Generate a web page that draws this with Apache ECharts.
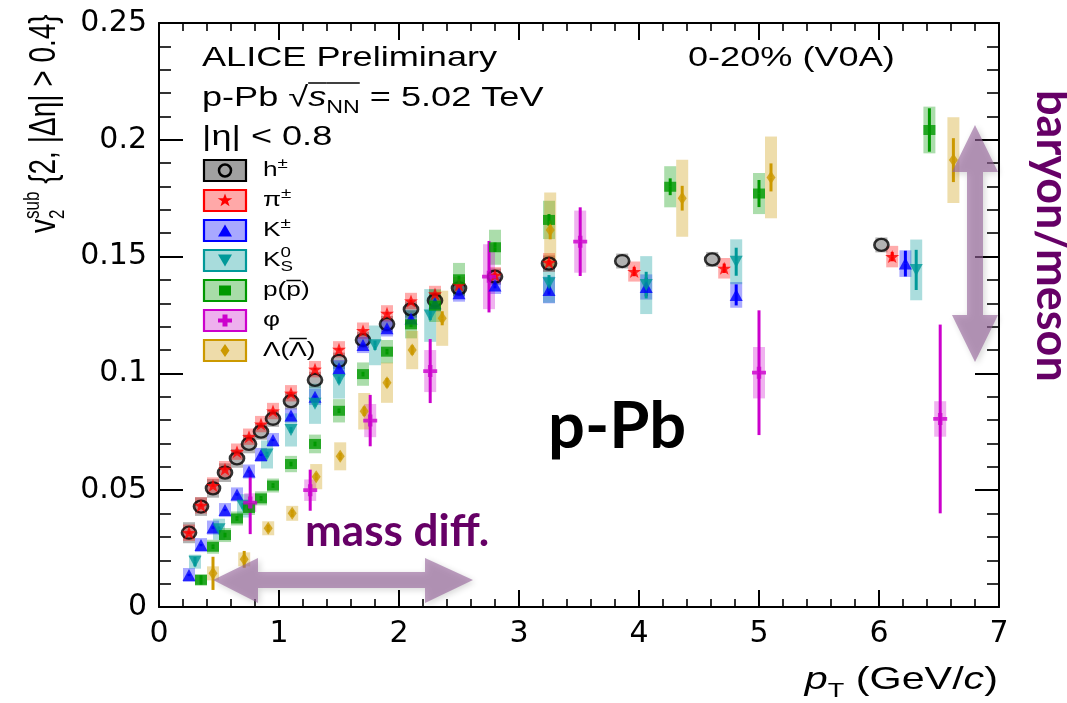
<!DOCTYPE html>
<html><head><meta charset="utf-8">
<script src="https://cdn.jsdelivr.net/npm/echarts@6/dist/echarts.min.js"></script>
<style>html,body{margin:0;padding:0;background:#fff}#c{width:1067px;height:703px}</style>
</head><body><div id="c"></div>
<script>
// ---------------- DATA ----------------
const xTicks = [0, 1, 2, 3, 4, 5, 6, 7];
const yTicks = [0, 0.05, 0.1, 0.15, 0.2, 0.25];

const hPt   = [0.25,0.35,0.45,0.55,0.65,0.75,0.85,0.95,1.1,1.3,1.5,1.7,1.9,2.1,2.3,2.5,2.8,3.25,3.86,4.61,6.02];
const hV2   = [0.0318,0.0430,0.0508,0.0575,0.0636,0.0698,0.0751,0.0806,0.0881,0.0972,0.1054,0.1143,0.1211,0.1274,0.1312,0.1364,0.1414,0.1470,0.1481,0.1488,0.1550];
const hStat = [0.0005,0.0005,0.0005,0.0005,0.0005,0.0005,0.0005,0.0005,0.0005,0.0005,0.0005,0.0005,0.0005,0.0005,0.0005,0.0005,0.0006,0.0008,0.001,0.001,0.001];
const hSyst = [0.0045,0.004,0.004,0.004,0.004,0.004,0.0035,0.0035,0.0035,0.0035,0.0035,0.0035,0.0035,0.0035,0.0035,0.0035,0.0035,0.0035,0.0032,0.0032,0.0032];

const piPt   = [0.25,0.35,0.45,0.55,0.65,0.75,0.85,0.95,1.1,1.3,1.5,1.7,1.9,2.1,2.3,2.5,2.8,3.25,3.96,4.71,6.11];
const piV2   = [0.0318,0.0435,0.0520,0.0590,0.0665,0.0729,0.0783,0.0839,0.0915,0.1018,0.1103,0.1183,0.1257,0.1310,0.1340,0.1378,0.1420,0.1475,0.1436,0.1450,0.1500];
const piStat = [0.0005,0.0005,0.0005,0.0005,0.0005,0.0005,0.0005,0.0005,0.0005,0.0005,0.0005,0.0005,0.0005,0.0005,0.0005,0.0006,0.0008,0.001,0.002,0.002,0.002];
const piSyst = [0.0035,0.0035,0.0035,0.0035,0.0035,0.0035,0.0035,0.0035,0.0035,0.0035,0.0035,0.0035,0.0035,0.0035,0.0035,0.0035,0.0035,0.004,0.0043,0.0044,0.0046];

const kPt   = [0.25,0.35,0.45,0.55,0.65,0.75,0.85,0.95,1.1,1.3,1.5,1.7,1.9,2.1,2.3,2.5,2.8,3.25,4.06,4.81,6.22];
const kV2   = [0.0137,0.0265,0.0340,0.0415,0.0482,0.0580,0.0651,0.0715,0.0820,0.0900,0.1022,0.1122,0.1193,0.1235,0.1300,0.1343,0.1376,0.1357,0.1370,0.1336,0.1470];
const kStat = [0.0005,0.0005,0.0005,0.0005,0.0005,0.0005,0.0005,0.0005,0.0005,0.0005,0.0005,0.0006,0.0007,0.0008,0.001,0.001,0.0012,0.002,0.004,0.0045,0.0055];
const kSyst = [0.003,0.003,0.003,0.003,0.003,0.003,0.003,0.003,0.003,0.0035,0.0035,0.0035,0.0035,0.0035,0.0035,0.0036,0.0036,0.0057,0.0054,0.0055,0.0057];

const k0Pt   = [0.30,0.50,0.70,0.90,1.10,1.30,1.50,1.80,2.26,3.25,4.06,4.81,6.31];
const k0V2   = [0.0194,0.0333,0.0433,0.0653,0.0758,0.0870,0.0972,0.1120,0.1248,0.1386,0.1378,0.1478,0.1443];
const k0Stat = [0.002,0.0012,0.0012,0.0012,0.0012,0.0012,0.0015,0.002,0.002,0.0035,0.0057,0.006,0.0086];
const k0Syst = [0.003,0.0045,0.005,0.006,0.0071,0.0086,0.008,0.0085,0.0113,0.0084,0.0124,0.0096,0.013];

const pPt   = [0.35,0.45,0.55,0.65,0.75,0.85,0.95,1.1,1.3,1.5,1.7,1.9,2.1,2.3,2.5,2.8,3.25,4.26,5.0,6.42];
const pV2   = [0.0116,0.0258,0.0308,0.0379,0.0424,0.0465,0.0520,0.0612,0.0698,0.0840,0.0997,0.1093,0.1210,0.1290,0.1403,0.1540,0.1657,0.1799,0.1770,0.2042];
const pStat = [0.002,0.001,0.001,0.001,0.001,0.001,0.001,0.001,0.001,0.001,0.001,0.0012,0.0012,0.0015,0.0015,0.002,0.0025,0.0036,0.0058,0.0093];
const pSyst = [0.0025,0.003,0.003,0.003,0.003,0.003,0.003,0.0035,0.004,0.005,0.005,0.005,0.006,0.007,0.007,0.0075,0.0082,0.0088,0.0088,0.010];

const phiPt   = [0.76,1.26,1.76,2.26,2.75,3.51,5.0,6.51];
const phiV2   = [0.0447,0.0500,0.0798,0.1010,0.1414,0.1564,0.1003,0.0805];
const phiStat = [0.0135,0.0088,0.011,0.0137,0.0153,0.0147,0.0267,0.0404];
const phiSyst = [0.004,0.0046,0.0071,0.009,0.0139,0.0133,0.011,0.0076];

const lamPt   = [0.45,0.71,0.91,1.11,1.31,1.51,1.71,1.90,2.11,2.36,3.26,4.36,5.10,6.62];
const lamV2   = [0.0144,0.0204,0.0337,0.0401,0.0558,0.0645,0.0838,0.0960,0.1100,0.1236,0.1614,0.1750,0.1839,0.1913];
const lamStat = [0.0071,0.0036,0.0015,0.0015,0.0015,0.0015,0.002,0.002,0.002,0.003,0.004,0.0053,0.006,0.0094];
const lamSyst = [0.003,0.003,0.003,0.0032,0.0054,0.006,0.0078,0.0086,0.0082,0.0118,0.016,0.0165,0.0175,0.0184];

// ---------------- STYLE ----------------
const STAR = 'path://M0,-50 L11.8,-16.2 L47.6,-15.5 L19,6.2 L29.4,40.5 L0,20 L-29.4,40.5 L-19,6.2 L-47.6,-15.5 L-11.8,-16.2 Z';
const PLUS = 'path://M-16,-50 H16 V-16 H50 V16 H16 V50 H-16 V16 H-50 V-16 H-16 Z';

const species = [
  {name:'h',   pt:hPt,  v2:hV2,  stat:hStat,  syst:hSyst,  color:'#000000', box:'rgba(0,0,0,0.30)',     lbox:'#a0a0a0', symbol:'circle',   size:[14,12], hollow:true, lk:'circle'},
  {name:'pi',  pt:piPt, v2:piV2, stat:piStat, syst:piSyst, color:'#ff0000', box:'rgba(255,0,0,0.33)',   lbox:'#ffa8a8', symbol:STAR,       size:[14,13], lk:'star'},
  {name:'K',   pt:kPt,  v2:kV2,  stat:kStat,  syst:kSyst,  color:'#0000ff', box:'rgba(0,0,255,0.33)',   lbox:'#a8a8ff', symbol:'triangle', size:[13,12], lk:'tri'},
  {name:'K0S', pt:k0Pt, v2:k0V2, stat:k0Stat, syst:k0Syst, color:'#009999', box:'rgba(0,153,153,0.33)', lbox:'#a8dcdc', symbol:'triangle', size:[13,12], rot:180, lk:'tridown'},
  {name:'p',   pt:pPt,  v2:pV2,  stat:pStat,  syst:pSyst,  color:'#009900', box:'rgba(0,153,0,0.33)',   lbox:'#a8dca8', symbol:'rect',     size:[12,10], lk:'rect'},
  {name:'phi', pt:phiPt,v2:phiV2,stat:phiStat,syst:phiSyst,color:'#cc00cc', box:'rgba(204,0,204,0.30)', lbox:'#eeb0ee', symbol:PLUS,       size:[14,12], lk:'plus'},
  {name:'Lam', pt:lamPt,v2:lamV2,stat:lamStat,syst:lamSyst,color:'#cc9900', box:'rgba(204,153,0,0.33)', lbox:'#eedcaa', symbol:'diamond',  size:[9,13],  lk:'diamond'}
];

const series = [];
species.forEach(sp => {
  series.push({
    type:'custom', name:sp.name+' syst', z:2, silent:true, clip:true,
    encode:{x:0, y:1},
    data: sp.pt.map((x,i)=>[x, sp.v2[i], sp.syst[i]]),
    renderItem(params, api){
      const x = api.value(0), y = api.value(1), s = api.value(2);
      const a = api.coord([x, y + s]), b = api.coord([x, y - s]);
      return {type:'rect', shape:{x:a[0]-6, y:a[1], width:12, height:b[1]-a[1]}, style:{fill:sp.box}};
    }
  });
});
species.forEach(sp => {
  series.push({
    type:'custom', name:sp.name+' stat', z:3, silent:true, clip:true,
    encode:{x:0, y:1},
    data: sp.pt.map((x,i)=>[x, sp.v2[i], sp.stat[i]]),
    renderItem(params, api){
      const x = api.value(0), y = api.value(1), s = api.value(2);
      const a = api.coord([x, y + s]), b = api.coord([x, y - s]), c = api.coord([x, y]);
      const gap = sp.hollow ? 6 : 0, children = [];
      // the bar is not drawn inside a hollow marker
      if (c[1] - a[1] > gap) children.push({type:'line', shape:{x1:a[0], y1:a[1], x2:a[0], y2:c[1]-gap}, style:{stroke:sp.color, lineWidth:3}});
      if (b[1] - c[1] > gap) children.push({type:'line', shape:{x1:b[0], y1:c[1]+gap, x2:b[0], y2:b[1]}, style:{stroke:sp.color, lineWidth:3}});
      return {type:'group', children};
    }
  });
});
species.forEach(sp => {
  series.push({
    type:'scatter', name:sp.name, z:4, silent:true,
    symbol: sp.symbol, symbolSize: sp.size, symbolRotate: sp.rot || 0,
    data: sp.pt.map((x,i)=>[x, sp.v2[i]]),
    itemStyle: sp.hollow ? {color:'rgba(0,0,0,0)', borderColor:'#000', borderWidth:2.5} : {color:sp.color},
    emphasis:{disabled:true}
  });
});

// ---------------- TEXT HELPERS ----------------
const FAM = "'Liberation Sans', Arial, sans-serif";
const ctx = document.createElement('canvas').getContext('2d');
function fontStr(f){ return (f.it?'italic ':'')+(f.b?'bold ':'')+f.s+'px '+(f.fam||FAM); }
function measure(f){ ctx.font = fontStr(f); return ctx.measureText(f.t).width; }
function textLine(x, y, frags, opt){
  opt = opt || {};
  const children = [];
  let cx = 0, prevX = 0, prevW = 0;
  frags.forEach(f => {
    const w = measure(f);
    let px = cx;
    if (f.same) { px = prevX; }
    const base = -(f.dy || 0);
    children.push({type:'text', x:px, y:base - 0.35*f.s,
      style:{text:f.t, font:fontStr(f), fill:f.c || opt.c || '#000', align:'left', verticalAlign:'middle'}});
    if (f.ol) children.push({type:'line', shape:{x1:px, y1:-f.ol, x2:px+w, y2:-f.ol}, style:{stroke:f.c||opt.c||'#000', lineWidth:1.5}});
    if (f.same) { cx = prevX + Math.max(prevW, w); prevW = Math.max(prevW, w); }
    else { prevX = px; prevW = w; cx = px + w; }
  });
  const sx = opt.sx || 1, sy = opt.sy || 1;
  let gx = x;
  if (opt.alignRight) gx = x - cx * sx;
  return {type:'group', x:gx, y:y, scaleX:sx, scaleY:sy, rotation:opt.rot || 0, z:50, children};
}

const SX = 1.29;
const graphic = [];
graphic.push(textLine(202, 68, [{t:'ALICE Preliminary', s:28}], {sx:SX}));
graphic.push(textLine(688, 68, [{t:'0-20% (V0A)', s:28}], {sx:SX}));
graphic.push(textLine(202, 108, [
  {t:'p-Pb ', s:28}, {t:'√', s:28}, {t:'s', s:28, it:true, ol:25}, {t:'NN', s:18, dy:-6, ol:25}, {t:' = 5.02 TeV', s:28}
], {sx:SX}));
graphic.push(textLine(202, 147, [{t:'|η| < 0.8', s:28}], {sx:SX}));

// y axis title (rotated)
graphic.push(textLine(58, 233, [
  {t:'v', s:28}, {t:'sub', s:17, dy:13}, {t:'2', s:17, dy:-6, same:true}, {t:' {2, |Δη| > 0.4}', s:28}
], {rot:Math.PI/2, sy:1.3}));

// x axis title
graphic.push(textLine(998, 691, [
  {t:'p', s:32, it:true}, {t:'T', s:21, dy:-8}, {t:' (GeV/', s:32}, {t:'c', s:32, it:true}, {t:')', s:32}
], {sx:SX, alignRight:true}));

// legend
const legendRows = [
  [{t:'h', s:21}, {t:'±', s:15, dy:8}],
  [{t:'π', s:21}, {t:'±', s:15, dy:8}],
  [{t:'K', s:21}, {t:'±', s:15, dy:8}],
  [{t:'K', s:21}, {t:'0', s:15, dy:9}, {t:'S', s:15, dy:-5, same:true}],
  [{t:'p(', s:21}, {t:'p', s:21, ol:17}, {t:')', s:21}],
  [{t:'φ', s:21}],
  [{t:'Λ(', s:21}, {t:'Λ', s:21, ol:19}, {t:')', s:21}]
];
function starPts(cx, cy, R, r){ const p=[]; for(let i=0;i<10;i++){const a=-Math.PI/2+i*Math.PI/5; const rr=i%2?r:R; p.push([cx+rr*Math.cos(a)*1.1, cy+rr*Math.sin(a)]);} return p; }
function markerEl(kind, cx, cy, color){
  const st = {fill:color};
  switch(kind){
    case 'circle': return {type:'circle', shape:{cx, cy, r:6}, style:{fill:'rgba(0,0,0,0)', stroke:'#000', lineWidth:2.5}, z:52};
    case 'star': return {type:'polygon', shape:{points:starPts(cx,cy,7,2.8)}, style:st, z:52};
    case 'tri': return {type:'polygon', shape:{points:[[cx,cy-6],[cx+7,cy+6],[cx-7,cy+6]]}, style:st, z:52};
    case 'tridown': return {type:'polygon', shape:{points:[[cx,cy+6],[cx+7,cy-6],[cx-7,cy-6]]}, style:st, z:52};
    case 'rect': return {type:'rect', shape:{x:cx-6, y:cy-5, width:12, height:10}, style:st, z:52};
    case 'plus': return {type:'polygon', shape:{points:[[cx-2.5,cy-6],[cx+2.5,cy-6],[cx+2.5,cy-2],[cx+7,cy-2],[cx+7,cy+2],[cx+2.5,cy+2],[cx+2.5,cy+6],[cx-2.5,cy+6],[cx-2.5,cy+2],[cx-7,cy+2],[cx-7,cy-2],[cx-2.5,cy-2]]}, style:st, z:52};
    case 'diamond': return {type:'polygon', shape:{points:[[cx,cy-6.5],[cx+4.5,cy],[cx,cy+6.5],[cx-4.5,cy]]}, style:st, z:52};
  }
}
species.forEach((sp, i) => {
  const cy = 170.5 + i*30;
  graphic.push({type:'rect', shape:{x:204, y:cy-10.5, width:42, height:21}, style:{fill:sp.lbox, stroke:sp.color, lineWidth:2.2}, z:51});
  graphic.push(markerEl(sp.lk, 225, cy, sp.color));
  graphic.push(textLine(263, cy + 7, legendRows[i], {sx:1.25}));
});

// annotations
const PURPLE = '#660066';
const ARROW = 'rgba(150,100,155,0.62)';
graphic.push({type:'text', x:548, y:460, z:60, style:{text:'p-Pb', font:"bold 65px Lato, 'Open Sans', sans-serif", fill:'#000', align:'left', verticalAlign:'bottom'}});
graphic.push({type:'text', x:305, y:554, z:60, style:{text:'mass diff.', font:"bold 44px Lato, 'Open Sans', sans-serif", fill:PURPLE, align:'left', verticalAlign:'bottom'}});
graphic.push({type:'text', x:1029, y:90, rotation:-Math.PI/2, z:60, style:{text:'baryon/meson', font:"bold 45px Lato, 'Open Sans', sans-serif", fill:PURPLE, align:'left', verticalAlign:'bottom'}});
graphic.push({type:'polygon', z:70, shape:{points:[[213,580],[258,558],[258,572],[425,572],[425,558],[473,580],[425,603],[425,588],[258,588],[258,603]]},
  style:{fill:ARROW, shadowBlur:6, shadowColor:'rgba(0,0,0,0.25)', shadowOffsetX:2, shadowOffsetY:2}});
graphic.push({type:'polygon', z:70, shape:{points:[[975,125],[998,172],[983,172],[983,315],[998,315],[975,362],[952,315],[967,315],[967,172],[952,172]]},
  style:{fill:ARROW, shadowBlur:6, shadowColor:'rgba(0,0,0,0.25)', shadowOffsetX:2, shadowOffsetY:2}});

// ---------------- AXES ----------------
function xAx(pos, labels){
  return {type:'value', min:xTicks[0], max:xTicks[xTicks.length-1], interval:1, position:pos,
    axisLine:{show:true, onZero:false, lineStyle:{color:'#000', width:2}},
    axisTick:{show:true, inside:true, length:17, lineStyle:{color:'#000', width:2}},
    minorTick:{show:true, splitNumber:5, length:8, lineStyle:{color:'#000', width:1.6}},
    axisLabel:{show:labels, fontFamily:'DejaVu Sans', fontSize:30, color:'#000', margin:12},
    splitLine:{show:false}, minorSplitLine:{show:false}};
}
function yAx(pos, labels){
  return {type:'value', min:yTicks[0], max:yTicks[yTicks.length-1], interval:0.05, position:pos,
    axisLine:{show:true, onZero:false, lineStyle:{color:'#000', width:2}},
    axisTick:{show:true, inside:true, length:24, lineStyle:{color:'#000', width:2}},
    minorTick:{show:true, splitNumber:5, length:12, lineStyle:{color:'#000', width:1.6}},
    axisLabel:{show:labels, fontFamily:'DejaVu Sans', fontSize:30, color:'#000', margin:12,
      formatter: v => String(parseFloat(v.toFixed(3)))},
    splitLine:{show:false}, minorSplitLine:{show:false}};
}

const chart = echarts.init(document.getElementById('c'), null, {renderer:'canvas'});
chart.setOption({
  animation:false,
  backgroundColor:'#ffffff',
  grid:{left:159, right:68, top:23, bottom:96, containLabel:false},
  xAxis:[xAx('bottom', true), xAx('top', false)],
  yAxis:[yAx('left', true), yAx('right', false)],
  series: series,
  graphic: graphic
});
</script></body></html>
